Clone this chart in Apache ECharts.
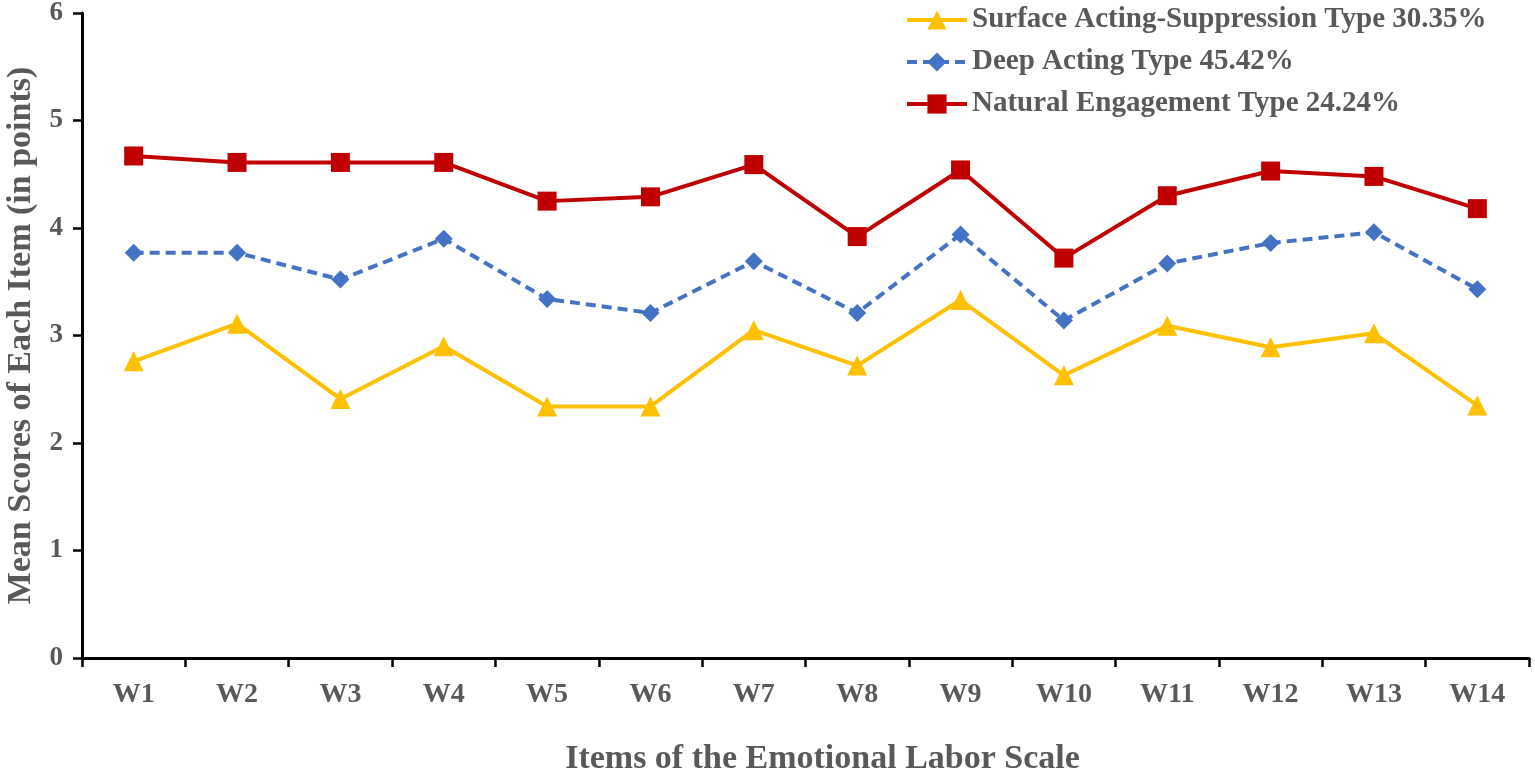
<!DOCTYPE html>
<html>
<head>
<meta charset="utf-8">
<title>Emotional Labor Scale</title>
<script src="https://cdn.jsdelivr.net/npm/echarts@6/dist/echarts.min.js"></script>
<style>
	html,body{margin:0;padding:0;background:#fff;}
	#main{width:1535px;height:777px;}
</style>
</head>
<body>
<div id="main"></div>
<script>
	//条目
	var items = ['W1','W2','W3','W4','W5','W6','W7','W8','W9','W10','W11','W12','W13','W14'];
	var yTicks = [0,1,2,3,4,5,6];
	//图例名称
	var names = ['Surface Acting-Suppression Type 30.35%','Deep Acting Type 45.42%','Natural Engagement Type 24.24%'];
	//各类型均分
	var surfaceData = [2.76,3.11,2.41,2.90,2.34,2.34,3.05,2.72,3.33,2.63,3.09,2.89,3.02,2.35];
	var deepData = [3.77,3.77,3.52,3.90,3.34,3.21,3.69,3.21,3.94,3.14,3.67,3.86,3.96,3.43];
	var naturalData = [4.67,4.61,4.61,4.61,4.25,4.29,4.59,3.92,4.54,3.72,4.30,4.53,4.48,4.18];

	var font = '"Liberation Serif","Times New Roman",serif';
	var txt = '#595959';

	function lineSeries(name,data,color,symbol,size,dash){
		return {
			name: name,
			type: 'line',
			data: data,
			symbol: symbol,
			symbolSize: size,
			itemStyle: {color: color},
			lineStyle: {color: color, width: 4, type: dash || 'solid'},
			animation: false
		}
	}

	var chart = echarts.init(document.getElementById('main'));
	var option = {
		backgroundColor: '#fff',
		legend: {
			orient: 'vertical',
			left: 900,
			top: 0,
			itemWidth: 60,
			itemHeight: 24,
			itemGap: 12,
			data: names,
			lineStyle: {width: 4},
			textStyle: {
				fontFamily: font,
				fontWeight: 'bold',
				fontSize: 29,
				lineHeight: 30,
				color: txt
			}
		},
		grid: {
			left: 82,
			right: 6,
			top: 13,
			bottom: 119,
			outerBoundsMode: 'none' //不自动收缩
		},
		xAxis: {
			type: 'category',
			data: items,
			boundaryGap: true,
			name: 'Items of the Emotional Labor Scale',
			nameLocation: 'middle',
			nameGap: 84,
			nameTextStyle: {fontFamily: font, fontWeight: 'bold', fontSize: 34, color: txt, padding: [0,0,0,34]},
			axisLine: {lineStyle: {color: '#000', width: 3}},
			axisTick: {show: true, length: 9, lineStyle: {color: '#000', width: 2.5}},
			axisLabel: {fontFamily: font, fontWeight: 'bold', fontSize: 28, color: txt, margin: 23},
			splitLine: {show: false}
		},
		yAxis: {
			type: 'value',
			min: yTicks[0],
			max: yTicks[yTicks.length-1],
			interval: 1,
			name: 'Mean Scores of Each Item (in points)',
			nameLocation: 'middle',
			nameGap: 42,
			nameTextStyle: {fontFamily: font, fontWeight: 'bold', fontSize: 34, color: txt},
			axisLine: {show: true, lineStyle: {color: '#000', width: 3}},
			axisTick: {show: true, length: 9, lineStyle: {color: '#000', width: 2.5}},
			axisLabel: {fontFamily: font, fontWeight: 'bold', fontSize: 27, color: txt, margin: 19},
			splitLine: {show: false}
		},
		series: [
			lineSeries(names[0], surfaceData, '#FFC000', 'triangle', 20),
			lineSeries(names[1], deepData, '#4472C4', 'diamond', 18, [10,6]),
			lineSeries(names[2], naturalData, '#C00000', 'rect', 19)
		]
	};
	chart.setOption(option);
</script>
</body>
</html>
